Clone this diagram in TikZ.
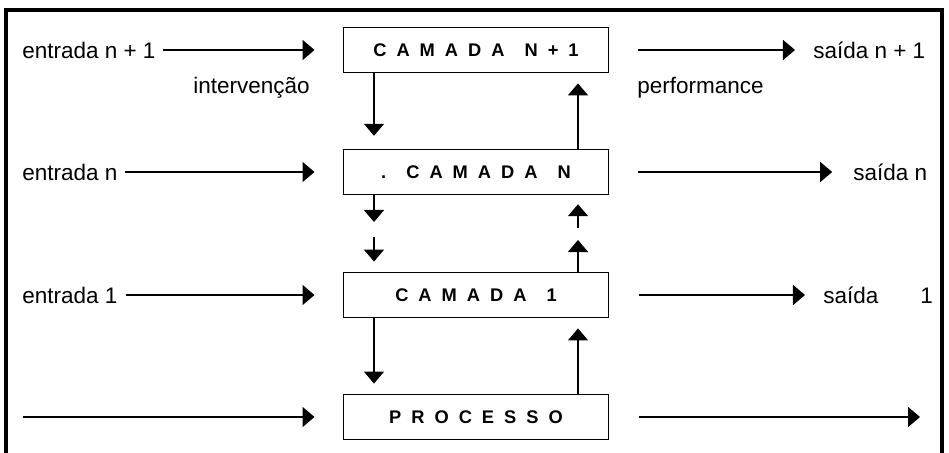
\documentclass[tikz,border=0pt]{standalone}
\usepackage{fontspec}
\setmainfont{Liberation Sans}
\usetikzlibrary{arrows.meta}
\usetikzlibrary{positioning}
\tikzset{camada/.style={draw, line width=1.3pt, minimum width=6.625cm, minimum height=1.125cm, inner sep=0pt,
  font=\fontsize{13}{14}\selectfont\bfseries}}
\tikzset{rotulo/.style={inner sep=0pt, font=\fontsize{16}{18}\selectfont}}
\tikzset{seta/.style={-{Triangle[length=0.3cm,width=0.5cm]}, line width=1.1pt}}
\newcommand{\ls}{\hspace{0.25cm}}

\begin{document}
\begin{tikzpicture}[x=0.025cm,y=-0.025cm]
\useasboundingbox (0,0) rectangle (949,453);
\draw[line width=2.2pt] (6,453) -- (6,10) -- (942,10) -- (942,453);

\node[camada] (cn1) at (476,50) {C\ls A\ls M\ls A\ls D\ls A\ls\ls N\ls +\ls 1};
\node[camada] (cn) at (476,172) {.\ls\ls C\ls A\ls M\ls A\ls D\ls A\ls\ls N};
\node[camada] (c1) at (476,295) {C\ls A\ls M\ls A\ls D\ls A\ls\ls 1};
\node[camada] (proc) at (476,417) {P\ls R\ls O\ls C\ls E\ls S\ls S\ls O};

% entradas
\node[rotulo, anchor=west] (in1) at (22,50) {entrada n + 1};
\node[rotulo, anchor=west] (inn) at (22,172) {entrada n};
\node[rotulo, anchor=west] (in0) at (22,295) {entrada 1};
\coordinate (inp) at (23,417);
\draw[seta, shorten <=0.18cm, shorten >=0.7cm] (in1) -- (cn1);
\draw[seta, shorten <=0.18cm, shorten >=0.7cm] (inn) -- (cn);
\draw[seta, shorten <=0.2cm, shorten >=0.7cm] (in0) -- (c1);
\draw[seta, shorten >=0.7cm] (inp) -- (proc);

% saidas
\node[rotulo, anchor=west] (out1) at (813,50) {saída n + 1};
\node[rotulo, anchor=west] (outn) at (853,172) {saída n};
\node[rotulo, anchor=west] (out0) at (823,295) {saída\hspace{1.05cm}1};
\coordinate (outp) at (920,417);
\draw[seta, shorten <=0.72cm, shorten >=0.45cm] (cn1) -- (out1);
\draw[seta, shorten <=0.72cm, shorten >=0.52cm] (cn) -- (outn);
\draw[seta, shorten <=0.75cm, shorten >=0.45cm] (c1) -- (out0);
\draw[seta, shorten <=0.75cm] (proc) -- (outp);

\node[rotulo, anchor=east] (interv) at (310,88) {intervenção};
\node[rotulo, anchor=west] (perf) at (637,88) {performance};

% camadas
\coordinate (dn1) at (374,222);
\coordinate (dn2) at (374,237);
\coordinate (up1) at (578,240);
\coordinate (up2) at (578,228);
\draw[seta, shorten >=0.32cm] (cn1.south -| dn1) -- (cn.north -| dn1);
\draw[seta] (cn.south -| dn1) -- (dn1);
\draw[seta, shorten >=0.25cm] (dn2) -- (c1.north -| dn2);
\draw[seta, shorten >=0.25cm] (c1.south -| dn1) -- (proc.north -| dn1);
\draw[seta, shorten >=0.25cm] (proc.north -| up1) -- (c1.south -| up1);
\draw[seta] (c1.north -| up1) -- (up1);
\draw[seta, shorten >=0.22cm] (up2) -- (cn.south -| up2);
\draw[seta, shorten >=0.25cm] (cn.north -| up1) -- (cn1.south -| up1);
\end{tikzpicture}
\end{document}
